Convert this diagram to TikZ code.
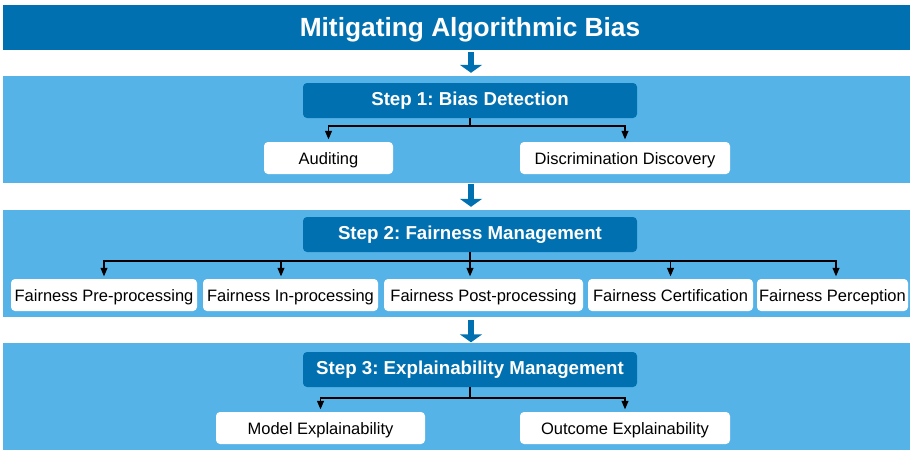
\documentclass[tikz,border=0pt]{standalone}
\usepackage{fontspec}
\setmainfont{Liberation Sans}
\usetikzlibrary{arrows.meta,calc}
\definecolor{darkblue}{HTML}{0070B0}
\definecolor{lightblue}{HTML}{56B3E8}
\frenchspacing
\begin{document}
\begin{tikzpicture}[x=1pt,y=-1pt,
  titlebar/.style={fill=darkblue, text=white, minimum width=934pt, minimum height=45pt, inner sep=0pt,
     text height=18.8pt, text depth=1pt, font=\fontsize{26.3}{28}\selectfont\bfseries},
  panel/.style={fill=lightblue, minimum width=934pt, minimum height=107pt, inner sep=0pt},
  stepbox/.style={fill=darkblue, rounded corners=4pt, text=white, minimum width=334pt, minimum height=35pt,
     inner sep=0pt, text height=13.4pt, text depth=2.6pt, font=\fontsize{18.7}{20}\selectfont\bfseries\frenchspacing},
  leaf/.style={fill=white, rounded corners=4pt, minimum height=32pt, inner sep=0pt,
     text height=13.5pt, text depth=0pt, font=\fontsize{16.5}{18}\selectfont},
  conn/.style={line width=1.1pt, -{Triangle[length=8.5pt,width=7pt]}, shorten >=2.5pt},
  busline/.style={line width=1.1pt},
  bigarrow/.style={draw=darkblue, line width=6pt, -{Triangle[length=8pt,width=22pt]}}
]
\useasboundingbox (0,0) rectangle (910,450);
\fill[white] (0,0) rectangle (910,450);

% bands
\node[titlebar] (title) at (470,27.5) {Mitigating Algorithmic Bias};
\node[panel] (p1) at (470,129.5) {};
\node[panel] (p2) at (470,263.5) {};
\node[panel] (p3) at (470,396.5) {};

% step boxes
\node[stepbox] (s1) at (470,100.5) {Step 1: Bias Detection};
\node[stepbox] (s2) at (470,234.5) {Step 2: Fairness Management};
\node[stepbox] (s3) at (470,369.5) {Step 3: Explainability Management};

% leaves step 1
\node[leaf, minimum width=129pt] (a1) at (328.5,158) {Auditing};
\node[leaf, minimum width=210pt] (a2) at (625,158) {Discrimination Discovery};

% leaves step 2
\node[leaf, minimum width=186pt] (b1) at (104,295) {Fairness Pre-processing};
\node[leaf, minimum width=175pt] (b2) at (290.5,295) {Fairness In-processing};
\node[leaf, minimum width=199pt] (b3) at (483.5,295) {Fairness Post-processing};
\node[leaf, minimum width=165pt] (b4) at (670.5,295) {Fairness Certification};
\node[leaf, minimum width=151pt] (b5) at (832.5,295) {Fairness Perception};

% leaves step 3
\node[leaf, minimum width=209pt] (c1) at (320.5,428) {Model Explainability};
\node[leaf, minimum width=210pt] (c2) at (625,428) {Outcome Explainability};

% big arrows
\draw[bigarrow] ($(title.south -| s1.north)+(1,2)$) -- ($(p1.north -| s1.north)+(1,-3)$);
\draw[bigarrow] ($(p1.south -| s1.north)+(1,1)$) -- ($(p2.north -| s1.north)+(1,-3)$);
\draw[bigarrow] ($(p2.south -| s1.north)+(1,3)$) -- ($(p3.north -| s1.north)+(1,-0.5)$);

% connectors step 1
\coordinate (j1) at (470,126);
\draw[busline] (s1.south) -- (j1);
\draw[conn] (j1) -| (a1.north);
\draw[conn] (j1) -| (a2.north);

% connectors step 2
\coordinate (j2) at (470,261);
\draw[busline] (s2.south) -- (j2);
\draw[conn] (j2) -| (b1.north);
\draw[conn] (j2) -| ([xshift=-9.5pt]b2.north);
\draw[conn] (j2) -| ([xshift=-13.5pt]b3.north);
\draw[conn] (j2) -| (b4.north);
\draw[conn] (j2) -| ([xshift=3.5pt]b5.north);

% connectors step 3
\coordinate (j3) at (470,398);
\draw[busline] (s3.south) -- (j3);
\draw[conn] (j3) -| (c1.north);
\draw[conn] (j3) -| (c2.north);
\end{tikzpicture}
\end{document}
